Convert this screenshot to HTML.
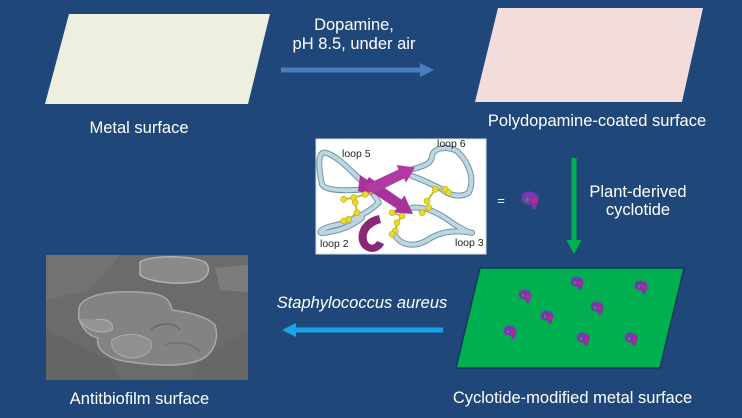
<!DOCTYPE html>
<html>
<head>
<meta charset="utf-8">
<style>
  html,body{margin:0;padding:0;background:#20477a;}
  svg{display:block;}
  text{font-family:"Liberation Sans",Arial,sans-serif;fill:#ffffff;}
</style>
</head>
<body>
<svg width="742" height="418" viewBox="0 0 742 418" xmlns="http://www.w3.org/2000/svg">
  <defs>
    <g id="cy">
      <path d="M-6,-3 C-5,-7 1,-7 4,-5 L6,-3 C7,-1 6,2 5,4 L4,7 L2,7 L1,4 L-3,3 C-6,2 -7,0 -6,-3 Z" fill="#7b36b2"/>
      <path d="M-3,-2 L0,0 L-3,1 Z" fill="#2aa860"/>
      <circle cx="3" cy="0.5" r="2" fill="#d0207a"/>
    </g>
  </defs>

  <rect width="742" height="418" fill="#20477a"/>

  <!-- Metal surface -->
  <polygon points="69,14 270,14 248,104 45,104" fill="#eef0df"/>
  <text x="139" y="133" font-size="16.5" text-anchor="middle">Metal surface</text>

  <!-- Top arrow -->
  <text x="354" y="30" font-size="16.5" text-anchor="middle">Dopamine,</text>
  <text x="354" y="49" font-size="16.5" text-anchor="middle">pH 8.5, under air</text>
  <rect x="281" y="67.5" width="141" height="5" fill="#4a7ebd"/>
  <polygon points="420,63 434,70 420,77" fill="#4a7ebd"/>

  <!-- Polydopamine surface -->
  <polygon points="498,8 703,8 682,102 475,102" fill="#f3dcdc"/>
  <text x="597" y="126" font-size="16.5" text-anchor="middle">Polydopamine-coated surface</text>

  <!-- Green arrow -->
  <rect x="571.5" y="158" width="5" height="84" fill="#00b050"/>
  <polygon points="566.5,240 581.5,240 574,254" fill="#00b050"/>
  <text x="638" y="197" font-size="16.5" text-anchor="middle">Plant-derived</text>
  <text x="638" y="215" font-size="16.5" text-anchor="middle">cyclotide</text>

  <!-- Cyclotide structure image -->
  <rect x="316" y="139" width="170" height="115" fill="#ffffff" stroke="#cfe0ea" stroke-width="1"/>
  <g fill="none" stroke-linecap="round">
    <g stroke="#7393a4" stroke-width="6">
      <path d="M367,186 C352,172.7 338.7,156 325.3,152.7 C317,151 318.7,169.3 322,184.3 C325.3,191 345.3,191 365.3,189.3"/>
      <path d="M412,169.3 C425.3,166 432,162.7 432,156 C433.7,146 452,146 458.7,152.7 C468.7,162.7 475.3,179.3 468.7,192.7 C462,197.7 448.7,196 442,189.3 C435.3,186 422,179.3 412,176"/>
      <path d="M378.7,202.7 C368.7,212.7 348.7,222.7 332,226 C318.7,229.3 317,234.3 325.3,232.7 C338.7,231 352,226 362,217.7"/>
      <path d="M412,207.7 C425.3,206 438.7,212.7 452,222.7 C462,229.3 468.7,232.7 472,232.7"/>
      <path d="M395.3,236 C402,246 415.3,247.7 428.7,239.3 C438.7,232.7 452,229.3 472,232.7"/>
      <path d="M370,190 C374,195 377,199 378.7,202.7"/>
    </g>
    <g stroke="#bcd6e2" stroke-width="4">
      <path d="M367,186 C352,172.7 338.7,156 325.3,152.7 C317,151 318.7,169.3 322,184.3 C325.3,191 345.3,191 365.3,189.3"/>
      <path d="M412,169.3 C425.3,166 432,162.7 432,156 C433.7,146 452,146 458.7,152.7 C468.7,162.7 475.3,179.3 468.7,192.7 C462,197.7 448.7,196 442,189.3 C435.3,186 422,179.3 412,176"/>
      <path d="M378.7,202.7 C368.7,212.7 348.7,222.7 332,226 C318.7,229.3 317,234.3 325.3,232.7 C338.7,231 352,226 362,217.7"/>
      <path d="M412,207.7 C425.3,206 438.7,212.7 452,222.7 C462,229.3 468.7,232.7 472,232.7"/>
      <path d="M395.3,236 C402,246 415.3,247.7 428.7,239.3 C438.7,232.7 452,229.3 472,232.7"/>
      <path d="M370,190 C374,195 377,199 378.7,202.7"/>
    </g>
  </g>
  <!-- magenta strands -->
  <polygon points="360,175 372,183 369,195 358,191" fill="#a8329a"/>
  <polygon points="369,177 401.4,199.5 404.5,195.5 413,214 393.5,212.5 396.5,208.5 363,186.5" fill="#a8329a"/>
  <polygon points="365.5,185 398.5,169.5 396.5,165 415,167.5 406,182.5 404,178.5 370.5,195" fill="#b03aa2"/>
  <path d="M379,215 C359,219 353,240 364,249 C372,255 381,251 384,244 L377,241 C374,246 369,246 367,240 C365,231 373,225 381,223 Z" fill="#8a2878"/>
  <!-- yellow disulfides -->
  <g stroke="#c8b818" stroke-width="1.8" fill="none">
    <polyline points="343.7,199.3 353.7,197.7 365.3,194.3 372,192.7"/>
    <polyline points="353.7,197.7 355.3,202.7 357,212.7 348.7,219.3 343.7,221"/>
    <polyline points="392,212.7 402,216 397,222.7 395.3,231 392,234.3"/>
    <polyline points="422,212.7 428.7,207.7 427,201 435.3,189.3 445.3,189.3 448.7,192.7"/>
  </g>
  <g fill="#e8dc2a" stroke="#b8a810" stroke-width="0.6">
    <circle cx="343.7" cy="199.3" r="3"/><circle cx="353.7" cy="197.7" r="3"/>
    <circle cx="365.3" cy="194.3" r="3"/><circle cx="355.3" cy="202.7" r="3"/>
    <circle cx="357" cy="212.7" r="3"/><circle cx="348.7" cy="219.3" r="3"/>
    <circle cx="343.7" cy="221" r="3"/>
    <circle cx="392" cy="212.7" r="3"/><circle cx="402" cy="216" r="3"/>
    <circle cx="397" cy="222.7" r="3"/><circle cx="395.3" cy="231" r="3"/>
    <circle cx="392" cy="234.3" r="3"/>
    <circle cx="422" cy="212.7" r="3"/><circle cx="428.7" cy="207.7" r="3"/>
    <circle cx="427" cy="201" r="3"/><circle cx="435.3" cy="189.3" r="3"/>
    <circle cx="445.3" cy="189.3" r="3"/><circle cx="448.7" cy="192.7" r="3"/>
  </g>
  <text x="342" y="157" font-size="10.5" style="fill:#222">loop 5</text>
  <text x="437" y="147" font-size="10.5" style="fill:#222">loop 6</text>
  <text x="320" y="247" font-size="10.5" style="fill:#222">loop 2</text>
  <text x="455" y="246" font-size="10.5" style="fill:#222">loop 3</text>

  <text x="501" y="205" font-size="13" text-anchor="middle">=</text>
  <use href="#cy" transform="translate(530,200) scale(1.35)"/>

  <!-- Green cyclotide-modified surface -->
  <polygon points="480,268 684,268 660,368 456,368" fill="#00b050" stroke="#16385c" stroke-width="1.5"/>
  <use href="#cy" x="525" y="296"/>
  <use href="#cy" x="577" y="283"/>
  <use href="#cy" x="641" y="287"/>
  <use href="#cy" x="597" y="308"/>
  <use href="#cy" x="547" y="317"/>
  <use href="#cy" x="510" y="332"/>
  <use href="#cy" x="583" y="339"/>
  <use href="#cy" x="631" y="339"/>
  <text x="572.5" y="403" font-size="16.5" text-anchor="middle">Cyclotide-modified metal surface</text>

  <!-- Blue arrow -->
  <text x="362" y="308" font-size="16.5" font-style="italic" text-anchor="middle">Staphylococcus aureus</text>
  <rect x="294" y="327.5" width="149" height="5" fill="#1aa3e8"/>
  <polygon points="282,330 296,323 296,337" fill="#1aa3e8"/>

  <!-- SEM image -->
  <rect x="46" y="255" width="202" height="125" fill="#6b6b6b"/>
  <polygon points="46,255 120,255 90,290 46,300" fill="#727272"/>
  <polygon points="46,330 110,360 120,380 46,380" fill="#656565"/>
  <polygon points="200,360 248,330 248,380 190,380" fill="#676767"/>
  <polygon points="215,268 248,265 248,292 220,290" fill="#7c7c7c"/>
  <path d="M140,262 C150,255 190,255 205,262 C212,268 208,280 195,282 C175,285 150,282 140,275 Z" fill="#8a8a8a" stroke="#b0b0b0" stroke-width="1.5"/>
  <path d="M80,305 C90,292 120,290 150,293 C165,295 170,300 172,310 C185,312 205,315 215,325 C220,340 212,355 200,360 C180,368 150,365 130,362 C110,360 95,350 98,338 C85,335 75,320 80,305 Z" fill="#838383" stroke="#a8a8a8" stroke-width="1.5"/>
  <path d="M78,318 C85,330 100,335 112,330 C115,322 105,318 95,320" fill="#949494" stroke="#b0b0b0" stroke-width="1"/>
  <path d="M112,340 C125,332 140,333 150,340 C155,350 145,358 130,358 C118,356 110,350 112,340 Z" fill="#909090" stroke="#acacac" stroke-width="1"/>
  <path d="M150,330 C160,322 175,322 180,330" fill="none" stroke="#6a6a6a" stroke-width="1.5"/>
  <path d="M165,345 C180,340 195,345 200,352" fill="none" stroke="#707070" stroke-width="1.5"/>
  <text x="139.5" y="404" font-size="16.5" text-anchor="middle">Antitbiofilm surface</text>
</svg>
</body>
</html>
